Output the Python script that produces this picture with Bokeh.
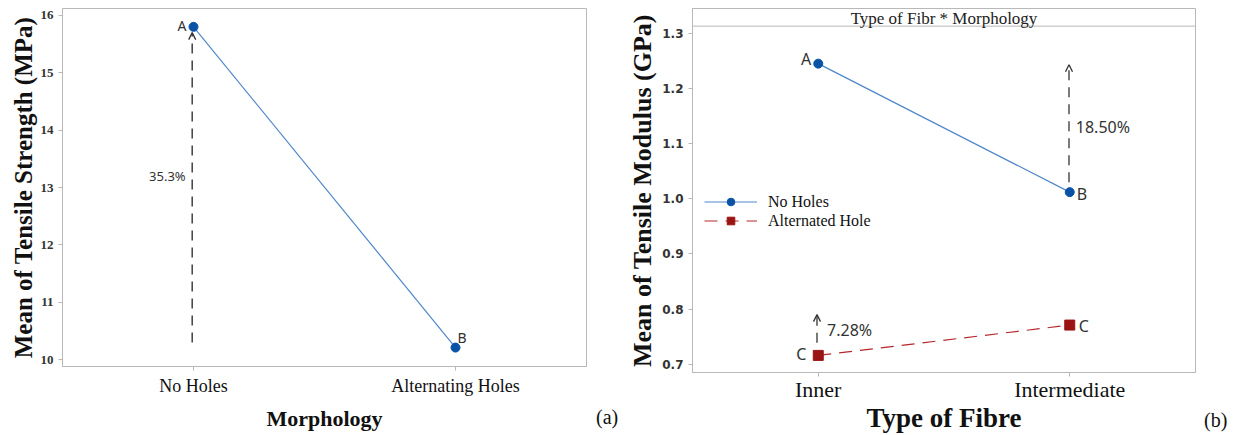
from bokeh.plotting import figure
from bokeh.models import (FactorRange, Range1d, FixedTicker, Arrow, OpenHead, Label,
                          Span, Legend, LegendItem, PrintfTickFormatter, Div)
from bokeh.layouts import row, column
from bokeh.core.properties import value
from bokeh.embed import file_html
from bokeh.resources import INLINE

# ---------------- data ----------------
morphology = ["No Holes", "Alternating Holes"]
strength_mean = [15.80, 10.21]
strength_letters = ["A", "B"]
strength_ticks = [10, 11, 12, 13, 14, 15, 16]
strength_change = "35.3%"

fibre_types = ["Inner", "Intermediate"]
modulus_no_holes = [1.245, 1.012]
modulus_alt_hole = [0.716, 0.771]
modulus_letters_no = ["A", "B"]
modulus_letters_alt = ["C", "C"]
modulus_ticks = [0.7, 0.8, 0.9, 1.0, 1.1, 1.2, 1.3]
change_no_holes = "18.50%"
change_alt_hole = "7.28%"
panel_tags = ["(a)", "(b)"]

BLUE_LINE = "#4f86c9"
BLUE_PT = "#0a52a5"
RED_LINE = "#b5272a"
RED_PT = "#9b1414"
FRAME = "#b8b8b8"
SERIF = "Liberation Serif"
SANS = "Noto Sans"
DARK = "#333333"


def style(p):
    p.outline_line_color = FRAME
    p.outline_line_width = 1
    p.xgrid.grid_line_color = None
    p.ygrid.grid_line_color = None
    for ax in (p.xaxis[0], p.yaxis[0]):
        ax.axis_line_color = FRAME
        ax.major_tick_line_color = FRAME
        ax.minor_tick_line_color = None
        ax.major_tick_out = 4
        ax.major_tick_in = 0
        ax.axis_label_text_font = SERIF
        ax.axis_label_text_font_style = "bold"
        ax.axis_label_text_color = "#111111"
    p.xaxis.major_label_text_font = SERIF
    p.xaxis.major_label_text_color = "#111111"
    p.background_fill_color = "white"
    p.border_fill_color = "white"


def tag_div(w, text, top):
    html = ('<div style="margin-top:%dpx;font-family:\'Liberation Serif\';'
            'font-size:20px;line-height:22px;color:#111111;text-align:center;">%s</div>'
            % (top, text))
    return Div(text=html, width=w, height=435, margin=0)


# ---------------- (a) tensile strength ----------------
p1 = figure(x_range=FactorRange(factors=morphology), y_range=Range1d(9.88, 16.12),
            width=596, height=435, min_border_left=62, min_border_right=10,
            min_border_top=8, min_border_bottom=69,
            output_backend="svg", toolbar_location=None)
style(p1)
p1.yaxis.ticker = FixedTicker(ticks=strength_ticks)
p1.yaxis.major_label_text_font = SERIF
p1.yaxis.major_label_text_font_style = "bold"
p1.yaxis.major_label_text_font_size = "13px"
p1.yaxis.major_label_text_color = DARK
p1.yaxis.axis_label = "Mean of Tensile Strength (MPa)"
p1.yaxis.axis_label_text_font_size = "25px"
p1.yaxis.axis_label_standoff = 1
p1.xaxis.axis_label = "Morphology"
p1.xaxis.axis_label_text_font_size = "22px"
p1.xaxis.major_label_text_font_size = "18px"
p1.xaxis.axis_label_standoff = 7

p1.line(morphology, strength_mean, line_color=BLUE_LINE, line_width=1.2)
p1.scatter(morphology, strength_mean, marker="circle", size=9, fill_color=BLUE_PT,
           line_color=BLUE_PT)

p1.text([morphology[0]], [strength_mean[0]], text=[strength_letters[0]],
        text_font=value(SANS), text_font_size="14px", text_color=DARK,
        text_align="right", text_baseline="middle", x_offset=-7, y_offset=-1)
p1.text([morphology[1]], [strength_mean[1]], text=[strength_letters[1]],
        text_font=value(SANS), text_font_size="14px", text_color=DARK,
        text_align="left", text_baseline="middle", x_offset=2, y_offset=-10)

p1.add_layout(Arrow(end=OpenHead(size=7, line_width=1.3, line_color=DARK),
                    x_start=0.495, y_start=10.30, x_end=0.495, y_end=15.70,
                    line_dash="10 7", line_width=1.4, line_color=DARK))
p1.add_layout(Label(x=0.47, y=13.2, text=strength_change, text_font=SANS,
                    text_font_size="13px", text_color=DARK,
                    text_align="right", text_baseline="middle"))

tag_a = tag_div(22, panel_tags[0], 406)

# ---------------- (b) tensile modulus ----------------
p2 = figure(x_range=FactorRange(factors=fibre_types), y_range=Range1d(0.685, 1.345),
            width=586, height=435, min_border_left=74, min_border_right=9,
            min_border_top=8, min_border_bottom=60,
            output_backend="svg", toolbar_location=None)
style(p2)
p2.yaxis.ticker = FixedTicker(ticks=modulus_ticks)
p2.yaxis.formatter = PrintfTickFormatter(format="%.1f")
p2.yaxis.major_label_text_font = "DejaVu Sans"
p2.yaxis.major_label_text_font_size = "12px"
p2.yaxis.major_label_text_font_style = "bold"
p2.yaxis.major_label_text_color = DARK
p2.yaxis.major_label_standoff = 5
p2.yaxis.axis_label = "Mean of Tensile Modulus (GPa)"
p2.yaxis.axis_label_text_font_size = "26px"
p2.yaxis.axis_label_standoff = 2
p2.xaxis.axis_label = "Type of Fibre"
p2.xaxis.axis_label_text_font_size = "27px"
p2.xaxis.major_label_text_font_size = "22px"
p2.xaxis.major_label_standoff = 0
p2.xaxis.axis_label_standoff = -2

# header strip
p2.add_layout(Span(location=1.313, dimension="width", line_color=FRAME, line_width=1))
p2.add_layout(Label(x=1.0, y=1.327, text="Type of Fibr * Morphology", text_font=SERIF,
                    text_font_size="17px", text_color="#222222",
                    text_align="center", text_baseline="middle"))

l_no = p2.line(fibre_types, modulus_no_holes, line_color=BLUE_LINE, line_width=1.2)
s_no = p2.scatter(fibre_types, modulus_no_holes, marker="circle", size=9,
                  fill_color=BLUE_PT, line_color=BLUE_PT)
l_alt = p2.line(fibre_types, modulus_alt_hole, line_color=RED_LINE, line_width=1.2,
                line_dash="13 8")
s_alt = p2.scatter(fibre_types, modulus_alt_hole, marker="square", size=10,
                   fill_color=RED_PT, line_color=RED_PT)


def letter(p, x, y, t, align, dx, dy):
    p.text([x], [y], text=[t], text_font=value(SANS), text_font_size="16px",
           text_color=DARK, text_align=align, text_baseline="middle",
           x_offset=dx, y_offset=dy)


letter(p2, fibre_types[0], modulus_no_holes[0], modulus_letters_no[0], "right", -7, -5)
letter(p2, fibre_types[1], modulus_no_holes[1], modulus_letters_no[1], "left", 7, 2)
letter(p2, fibre_types[0], modulus_alt_hole[0], modulus_letters_alt[0], "right", -12, -1)
letter(p2, fibre_types[1], modulus_alt_hole[1], modulus_letters_alt[1], "left", 9, 1)

p2.add_layout(Arrow(end=OpenHead(size=7, line_width=1.3, line_color=DARK),
                    x_start=1.497, y_start=1.03, x_end=1.497, y_end=1.243,
                    line_dash="10 7", line_width=1.3, line_color=DARK))
p2.add_layout(Label(x=1.524, y=1.130, text=change_no_holes, text_font=SANS,
                    text_font_size="16px", text_color=DARK,
                    text_align="left", text_baseline="middle"))
p2.add_layout(Arrow(end=OpenHead(size=7, line_width=1.3, line_color=DARK),
                    x_start=0.495, y_start=0.739, x_end=0.495, y_end=0.790,
                    line_dash="10 7", line_width=1.3, line_color=DARK))
p2.add_layout(Label(x=0.535, y=0.762, text=change_alt_hole, text_font=SANS,
                    text_font_size="16px", text_color=DARK,
                    text_align="left", text_baseline="middle"))

legend = Legend(items=[LegendItem(label="No Holes", renderers=[l_no, s_no]),
                       LegendItem(label="Alternated Hole", renderers=[l_alt, s_alt])],
                location=(12, 142), border_line_color=None, background_fill_alpha=0,
                glyph_width=53, glyph_height=19, label_height=19, spacing=0, padding=0,
                margin=0, label_standoff=11, label_text_font=SERIF,
                label_text_font_size="16px", label_text_color="#111111")
p2.add_layout(legend)

tag_b = tag_div(31, panel_tags[1], 409)

layout = row(column(p1), tag_a, column(p2), tag_b)
open("out.html", "w").write(file_html(layout, INLINE))
